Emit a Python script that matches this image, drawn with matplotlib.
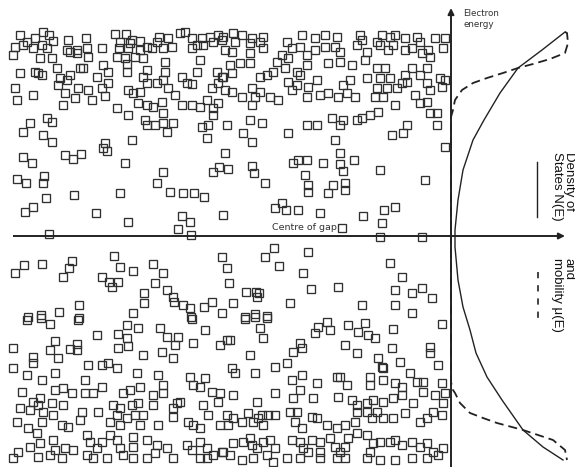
import numpy as np
import matplotlib
matplotlib.use("Agg")
import matplotlib.pyplot as plt

plt.rcParams["lines.scale_dashes"] = False

# Localised states: (position along the sample, energy), energy in arbitrary units
upper_states = [
    (20, 207), (35, 204), (43, 210), (49, 207), (27, 200), (53, 201), (68, 202), (86, 204), (115, 208),
    (126, 208), (132, 202), (120, 200), (140, 201), (157, 200), (159, 205), (168, 204), (180, 209),
    (185, 210), (192, 204), (202, 204), (210, 205), (218, 207), (222, 202),
    (15, 195), (23, 197), (33, 194), (42, 197), (47, 194), (67, 192), (77, 192), (87, 194), (102, 194),
    (119, 194), (128, 194), (130, 199), (147, 195), (152, 194), (163, 194), (172, 195), (192, 194),
    (197, 197), (203, 197), (213, 200),
    (13, 187), (40, 184), (52, 184), (70, 190), (77, 189), (88, 185), (117, 185), (125, 184), (135, 185),
    (140, 192), (143, 184), (200, 182), (127, 178),
    (20, 169), (35, 170), (38, 169), (42, 167), (57, 174), (70, 167), (80, 174), (83, 174), (97, 165),
    (103, 177), (108, 170), (127, 170), (147, 172), (165, 180), (165, 170), (143, 165), (182, 165),
    (197, 170), (217, 170), (222, 165), (60, 164), (67, 162),
    (15, 154), (33, 147), (58, 157), (78, 154), (88, 152), (102, 154), (108, 159), (128, 152), (133, 149),
    (140, 150), (147, 159), (157, 159), (163, 162), (168, 154), (187, 159), (192, 158), (212, 154),
    (218, 159), (65, 149),
    (17, 142), (63, 137), (75, 144), (92, 142), (105, 146), (138, 139), (147, 137), (153, 135), (162, 140),
    (175, 147), (182, 137), (192, 137), (200, 135), (207, 142), (213, 134), (218, 139),
    (117, 134), (128, 127), (145, 122), (147, 117), (155, 117), (163, 129), (163, 119), (173, 119),
    (202, 115), (208, 117), (213, 127), (47, 124), (52, 120), (30, 119), (23, 110), (43, 107), (52, 100),
    (105, 99), (132, 102), (207, 104), (167, 110),
    (223, 205), (233, 209), (242, 207), (252, 204), (263, 205), (235, 200), (250, 199), (260, 200),
    (302, 207), (315, 204), (325, 207), (337, 205), (360, 207), (362, 202), (377, 200), (382, 207),
    (390, 205), (395, 207), (405, 204), (417, 205), (420, 200), (435, 204), (445, 204),
    (225, 192), (232, 190), (250, 189), (263, 194), (287, 200), (292, 194), (300, 195), (288, 184),
    (277, 180), (282, 187), (307, 187), (315, 192), (325, 195), (335, 195), (340, 190), (357, 197),
    (367, 190), (380, 197), (388, 192), (393, 197), (405, 192), (412, 194), (422, 189), (430, 185),
    (428, 192), (443, 194),
    (230, 177), (232, 169), (240, 179), (250, 179), (273, 170), (285, 174), (297, 170), (307, 177),
    (300, 167), (328, 179), (340, 180), (352, 177), (365, 182), (367, 164), (377, 174), (385, 174),
    (380, 164), (390, 164), (405, 167), (412, 174), (427, 174), (420, 167), (440, 164), (445, 162),
    (223, 165), (260, 165), (267, 167),
    (225, 152), (232, 150), (242, 145), (252, 154), (255, 145), (260, 150), (270, 145), (278, 142),
    (288, 160), (292, 152), (297, 157), (308, 155), (317, 162), (307, 145), (320, 147), (328, 149),
    (338, 145), (343, 157), (350, 162), (347, 149), (355, 145), (377, 154), (375, 145), (387, 154),
    (397, 154), (402, 159), (407, 160), (415, 147), (427, 159), (430, 152), (442, 155), (383, 145),
    (252, 137), (395, 137), (420, 139), (427, 140), (370, 127), (378, 130), (332, 124), (343, 122),
    (357, 122), (362, 124), (430, 129), (437, 129), (227, 117), (250, 122), (262, 119), (307, 117),
    (317, 117), (340, 117), (407, 117), (437, 117),
    (243, 109), (252, 100), (288, 109), (335, 102), (392, 107), (403, 109),
]

gap_states = [
    (445, 95), (23, 85), (32, 79), (65, 87), (73, 83), (81, 88), (103, 94), (107, 91), (125, 79), (225, 89),
    (213, 70), (219, 75), (228, 73), (252, 76), (254, 69), (293, 79), (298, 82), (307, 82), (323, 79),
    (340, 89), (340, 78), (343, 71), (354, 82), (380, 72), (163, 70),
    (17, 63), (26, 59), (43, 59), (44, 66), (157, 59), (170, 50), (183, 49), (194, 49), (204, 45), (265, 59),
    (305, 67), (308, 57), (308, 50), (328, 49), (333, 57), (345, 59), (345, 52), (425, 62), (46, 44),
    (74, 47), (120, 49),
    (25, 30), (33, 35), (96, 29), (128, 20), (182, 26), (190, 20), (178, 13), (191, 7), (223, 27), (275, 34),
    (282, 39), (286, 32), (298, 32), (320, 29), (363, 26), (384, 32), (395, 35), (382, 19), (342, 14),
    (380, 5), (422, 5), (49, 8),
    (15, -31), (24, -23), (42, -22), (72, -19), (69, -26), (63, -35), (114, -14), (120, -25), (133, -29),
    (102, -35), (109, -40), (112, -45), (118, -40), (153, -22), (163, -31), (155, -41), (167, -48),
    (173, -55), (174, -60), (183, -63), (190, -66), (204, -65), (212, -60), (233, -61), (222, -71),
    (144, -51), (144, -61), (133, -71), (79, -63), (79, -76), (59, -70), (41, -73), (28, -75), (222, -15),
    (227, -26), (229, -41), (246, -50), (256, -50), (259, -51), (257, -55), (265, -15), (274, -6),
    (279, -24), (303, -31), (308, -10), (311, -47), (290, -61), (245, -75), (255, -72), (267, -74),
    (338, -45), (390, -21), (402, -35), (395, -48), (412, -51), (422, -46), (432, -56), (395, -63),
    (412, -71), (362, -63), (191, -75),
]

lower_states = [
    (27, -78), (41, -76), (50, -82), (78, -78), (127, -83), (138, -86), (192, -77),
    (55, -99), (50, -108), (70, -107), (77, -102), (77, -108), (97, -93), (118, -92), (127, -96),
    (128, -104), (118, -106), (160, -86), (167, -95), (175, -103), (178, -95), (193, -101), (205, -88),
    (220, -103), (13, -106), (33, -115), (58, -116),
    (143, -113), (162, -110), (173, -116), (88, -123), (102, -123), (108, -121), (117, -126), (33, -121),
    (55, -131), (137, -131), (158, -133), (13, -126), (27, -133), (42, -138), (190, -135), (205, -136),
    (193, -143), (200, -145),
    (22, -150), (55, -148), (63, -146), (72, -151), (85, -138), (85, -151), (93, -151), (102, -145),
    (123, -151), (130, -148), (140, -145), (153, -153), (163, -143), (163, -151), (177, -161), (180, -160),
    (203, -163), (212, -150), (220, -151), (218, -160), (40, -156), (52, -161), (33, -160), (20, -166),
    (30, -168),
    (38, -163), (43, -170), (53, -173), (42, -180), (63, -163), (82, -170), (80, -178), (98, -170),
    (113, -163), (120, -166), (132, -163), (138, -161), (143, -173), (153, -163), (110, -180), (120, -183),
    (117, -173), (127, -176), (135, -173), (140, -183), (158, -183), (173, -166), (173, -175), (188, -180),
    (193, -183), (200, -186), (208, -173), (220, -183), (17, -180), (28, -186), (62, -183), (68, -185),
    (37, -191), (40, -201), (53, -198), (55, -208), (65, -206), (73, -208), (30, -205), (18, -210),
    (13, -216), (38, -215), (87, -193), (90, -200), (97, -206), (102, -200), (110, -193), (117, -198),
    (120, -206), (123, -213), (133, -195), (133, -205), (147, -198), (157, -203), (155, -211), (167, -206),
    (173, -216), (187, -203), (192, -208), (200, -200), (207, -206), (213, -213), (222, -210), (93, -216),
    (107, -216), (87, -213), (62, -216), (50, -213), (133, -216), (147, -216), (200, -216), (207, -216),
    (245, -77), (255, -75), (267, -76), (260, -86), (263, -96), (227, -98), (230, -98), (318, -85),
    (327, -80), (330, -88), (315, -91), (348, -83), (358, -90), (365, -81), (375, -96), (368, -93),
    (393, -87), (442, -82), (250, -113), (232, -126), (235, -131), (255, -131), (275, -125), (287, -121),
    (293, -110), (300, -101), (302, -106), (345, -103), (357, -111), (378, -116), (382, -125), (383, -126),
    (392, -106), (400, -120), (430, -105), (430, -111), (438, -123),
    (292, -138), (302, -133), (300, -148), (317, -141), (337, -135), (340, -135), (347, -143), (370, -135),
    (370, -143), (383, -138), (395, -141), (402, -145), (410, -131), (417, -140), (423, -140), (442, -141),
    (445, -151), (233, -153), (257, -160), (275, -151), (293, -156), (313, -156), (338, -155), (352, -158),
    (357, -163), (367, -161), (373, -158), (383, -160), (393, -156), (402, -153), (413, -161), (423, -150),
    (435, -153), (443, -161),
    (227, -173), (233, -176), (242, -180), (228, -183), (253, -180), (262, -173), (268, -173), (275, -173),
    (263, -183), (290, -170), (295, -180), (302, -186), (297, -170), (312, -175), (317, -176), (327, -183),
    (337, -186), (345, -183), (355, -180), (357, -170), (367, -170), (372, -176), (377, -170), (383, -176),
    (393, -176), (405, -171), (420, -180), (427, -176), (433, -170), (442, -173), (248, -171), (258, -176),
    (233, -201), (243, -200), (250, -196), (252, -203), (257, -206), (263, -200), (270, -198), (275, -206),
    (223, -210), (230, -213), (242, -218), (253, -216), (267, -213), (273, -220), (287, -216), (292, -198),
    (300, -200), (303, -206), (308, -210), (312, -198), (320, -200), (320, -210), (330, -196), (335, -205),
    (340, -210), (345, -205), (348, -196), (357, -191), (367, -193), (373, -201), (370, -210), (380, -200),
    (390, -200), (395, -198), (402, -203), (412, -200), (420, -205), (427, -201), (433, -210), (438, -213),
    (443, -206), (367, -216), (380, -218), (395, -218), (412, -216), (427, -216), (300, -216), (320, -216),
    (337, -216), (345, -216),
]

gap_centre = 6

# Density of states N(E)
dos_energy = [210, 192, 174, 149, 122, 102, 72, 42, 12, -5, -38, -65, -88, -111, -135, -158, -188, -205, -218]
dos_value = [114, 91, 67, 49, 33, 22, 12, 7, 4, 4, 7, 12, 19, 25, 36, 51, 72, 92, 112]

# Mobility mu(E): zero inside the mobility gap
mob_energy = [210, 209, 199, 189, 183, 178, 174, 169, 164, 159, 152, 142, 132, 125,
              -140, -148, -151, -161, -171, -176, -181, -188, -198, -208, -218]
mob_value = [114, 116, 117, 114, 99, 82, 67, 52, 36, 22, 11, 4, 2, 0,
             0, 2, 4, 9, 19, 32, 46, 72, 102, 114, 116]

E_MIN, E_MAX = -225, 242
W, H = 575, 467
AXIS_X = 451
INK = "#222222"

fig = plt.figure(figsize=(W / 100, H / 100), dpi=100)
fig.patch.set_facecolor("white")

ax = fig.add_axes([0, 0, AXIS_X / W, 1])
ax.set_xlim(0, AXIS_X)
ax.set_ylim(E_MIN, E_MAX)
ax.axis("off")

axr = fig.add_axes([AXIS_X / W, 0, (W - AXIS_X) / W, 1])
axr.set_xlim(0, W - AXIS_X)
axr.set_ylim(E_MIN, E_MAX)
axr.axis("off")

# localised states
for states in (upper_states, gap_states, lower_states):
    pts = np.array(states, dtype=float)
    ax.plot(pts[:, 0], pts[:, 1], ls="none", marker="s", ms=5.7,
            mfc="none", mec="#303030", mew=0.95, clip_on=False)

# centre of gap line
ax.plot([13, AXIS_X], [gap_centre, gap_centre], color=INK, lw=1.4, solid_capstyle="butt")
ax.text(272, gap_centre + 4, "Centre of gap", fontsize=6.8, ha="left", va="bottom", color="#333333")

arrow_kw = dict(arrowstyle="-|>", color=INK, lw=1.4, mutation_scale=9, shrinkA=0, shrinkB=0)
axr.annotate("", xy=(114, gap_centre), xytext=(0, gap_centre), arrowprops=arrow_kw)
axr.annotate("", xy=(0, 234), xytext=(0, E_MIN), arrowprops=arrow_kw)
axr.text(12, 233, "Electron\nenergy", fontsize=6.3, ha="left", va="top", color="#333333", linespacing=1.3)

# N(E) and mu(E) curves
axr.plot(dos_value, dos_energy, color=INK, lw=1.0, clip_on=False)
axr.plot(mob_value, mob_energy, color=INK, lw=1.3, dashes=(6.5, 3.6), clip_on=False)

# rotated axis labels with line keys
label_kw = dict(rotation=-90, rotation_mode="anchor", ha="left", va="center",
                fontsize=9.5, family="Liberation Sans", color="#111111", linespacing=1.0)
axr.text(112, 242 - 152, "Density of\nStates N(E)", **label_kw)
axr.text(112, 242 - 258, "and\nmobility \u03bc(E)", **label_kw)
axr.plot([86, 86], [80, 25], color=INK, lw=1.0)
axr.plot([87, 87], [-30, -78], color=INK, lw=1.2, dashes=(4.5, 5))

fig.savefig("out.png", dpi=100, facecolor="white")
